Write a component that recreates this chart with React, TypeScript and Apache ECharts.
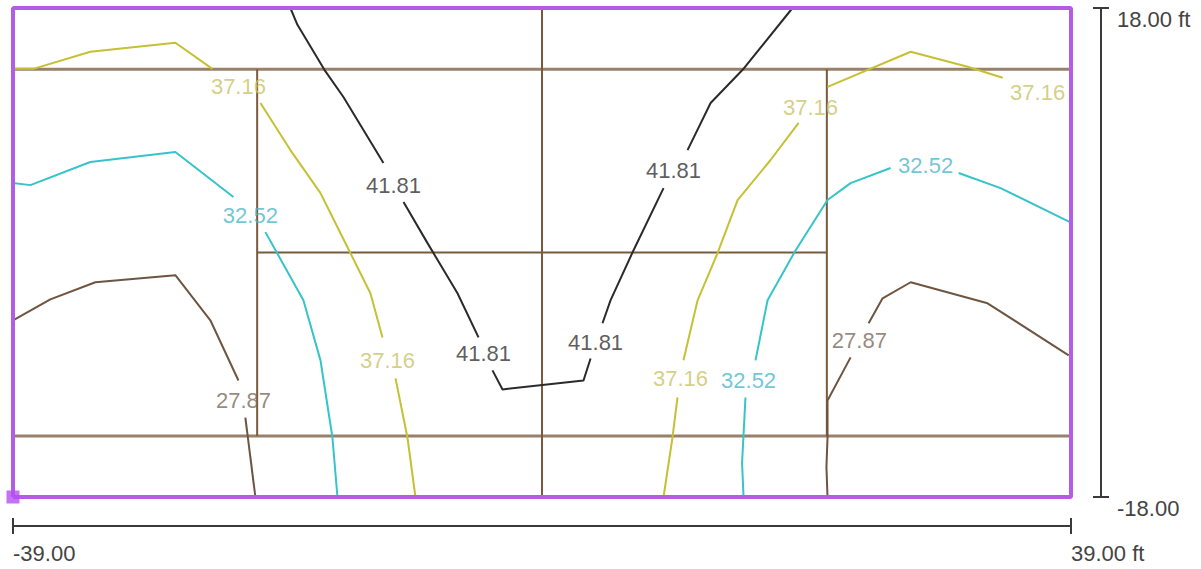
import React, { useEffect, useRef } from "react";
import * as echarts from "echarts";

// Axis ranges and tick labels (feet)
const X_RANGE = [-39, 39];
const Y_RANGE = [-18, 18];
const X_TICKS = [-39, 39];
const X_TICK_LABELS = ["-39.00", "39.00 ft"];
const Y_TICKS = [-18, 18];
const Y_TICK_LABELS = ["-18.00", "18.00 ft"];

// Contour levels
const LEVELS = [27.87, 32.52, 37.16, 41.81];

// Court outline and court markings
const courtOutline = [[-39, -18], [39, -18], [39, 18], [-39, 18], [-39, -18]];
const sideLines = [
  [[-39, 13.5], [39, 13.5]],
  [[-39, -13.5], [39, -13.5]],
];
const innerLines = [
  [[-21, -13.5], [-21, 13.5]],
  [[21, -13.5], [21, 13.5]],
  [[-21, 0], [21, 0]],
  [[0, -18], [0, 18]],
];

// 27.87 contour segments (brown)
const contour2787 = [
  [[-39, -4.99], [-36.25, -3.45], [-32.93, -2.19], [-27.03, -1.67], [-24.45, -4.99], [-22.38, -9.42]],
  [[-21.87, -12.15], [-21.13, -18]],
  [[21.05, -18], [20.97, -15.8], [21.05, -13.62], [21.05, -10.89], [22.75, -7.72]],
  [[24.08, -5.21], [25.11, -3.37], [27.18, -2.19], [32.85, -3.74], [38.83, -7.57]],
];
const labels2787 = [[-22.01, -10.89], [23.4, -6.5]];

// 32.52 contour segments (cyan)
const contour3252 = [
  [[-39, 5.11], [-37.72, 4.96], [-33.3, 6.66], [-27.03, 7.4], [-22.75, 4.08]],
  [[-20.39, 1.5], [-17.59, -3.52], [-16.33, -7.94], [-15.45, -13.62], [-15.08, -18]],
  [[14.86, -18], [14.75, -15.5], [15.0, -10.67]],
  [[15.74, -7.94], [16.63, -3.52], [18.7, 0.17], [21.05, 3.86], [22.75, 5.11], [25.7, 6.22]],
  [[30.72, 5.85], [33.81, 4.74], [39, 2.2]],
];
const labels3252 = [[-21.5, 2.75], [15.23, -9.42], [28.28, 6.44]];

// 37.16 contour segments (olive)
const contour3716 = [
  [[-39, 13.52], [-37.5, 13.52], [-33.3, 14.78], [-27.03, 15.44], [-24.3, 13.52]],
  [[-20.76, 11.01], [-18.55, 7.54], [-16.33, 4.37], [-14.34, 0.39], [-12.65, -3.0], [-11.76, -6.25]],
  [[-10.8, -9.27], [-9.92, -13.62], [-9.33, -18]],
  [[8.96, -18], [9.62, -13.62], [9.99, -10.67]],
  [[10.43, -7.94], [11.47, -3.52], [12.94, -0.05], [14.42, 3.86], [16.85, 6.81], [18.92, 9.54]],
  [[21.05, 12.19], [27.18, 14.78], [31.38, 13.67], [33.96, 12.86]],
];
const labels3716 = [[-22.38, 12.19], [-11.39, -7.94], [10.21, -9.27], [19.8, 10.71], [36.54, 11.81]];

// 41.81 contour segments (black)
const contour4181 = [
  [[-18.55, 18], [-18.03, 16.76], [-16.04, 13.45], [-14.64, 11.45], [-11.69, 6.59]],
  [[-10.21, 3.71], [-8.44, 0.69], [-6.23, -3.0], [-4.68, -6.25]],
  [[-3.65, -8.68], [-2.91, -10.08], [3.06, -9.42], [3.58, -7.8]],
  [[4.46, -5.21], [5.05, -3.52], [6.75, 0.17], [8.96, 4.74]],
  [[10.73, 7.54], [12.43, 11.01], [14.79, 13.45], [18.47, 18]],
];
const labels4181 = [[-10.95, 4.96], [-4.31, -7.42], [3.95, -6.61], [9.7, 6.07]];

const FONT = "'Liberation Sans', Arial, sans-serif";
const FONT_SIZE = 22;

const contourSets = [
  { level: LEVELS[0], segs: contour2787, labels: labels2787, line: "#6e5541", text: "#7a6a5c" },
  { level: LEVELS[1], segs: contour3252, labels: labels3252, line: "#36c4c8", text: "#4bb8cc" },
  { level: LEVELS[2], segs: contour3716, labels: labels3716, line: "#c6c034", text: "#c9c466" },
  { level: LEVELS[3], segs: contour4181, labels: labels4181, line: "#2a2a2a", text: "#333333" },
];

export default function App() {
  const ref = useRef<HTMLDivElement>(null);

  useEffect(() => {
    if (!ref.current) return;
    const chart = echarts.init(ref.current, null, { renderer: "svg" });

    const series: any[] = [];

    sideLines.forEach((seg) => {
      series.push({
        type: "line",
        data: seg,
        showSymbol: false,
        silent: true,
        z: 2,
        lineStyle: { color: "#98806a", width: 3 },
      });
    });
    innerLines.forEach((seg) => {
      series.push({
        type: "line",
        data: seg,
        showSymbol: false,
        silent: true,
        z: 2,
        lineStyle: { color: "#7a5a3c", width: 2 },
      });
    });

    contourSets.forEach((set) => {
      set.segs.forEach((seg) => {
        series.push({
          type: "line",
          data: seg,
          showSymbol: false,
          silent: true,
          z: 3,
          lineStyle: { color: set.line, width: 2 },
        });
      });
      series.push({
        type: "scatter",
        data: set.labels.map((p) => [p[0], p[1], set.level]),
        symbolSize: 0,
        silent: true,
        z: 5,
        label: {
          show: true,
          position: "inside",
          formatter: (p: any) => p.value[2].toFixed(2),
          color: set.text,
          fontSize: FONT_SIZE,
          fontFamily: FONT,
        },
      });
    });

    series.push({
      type: "line",
      data: courtOutline,
      showSymbol: false,
      silent: true,
      z: 4,
      lineStyle: { color: "#b35ce6", width: 4 },
    });
    series.push({
      type: "scatter",
      data: [[X_RANGE[0], Y_RANGE[0]]],
      symbol: "rect",
      symbolSize: 13,
      silent: true,
      z: 6,
      itemStyle: { color: "#b54ff0" },
    });

    const xLabel = (v: number) => X_TICK_LABELS[X_TICKS.indexOf(v)] ?? "";
    const yLabel = (v: number) => Y_TICK_LABELS[Y_TICKS.indexOf(v)] ?? "";
    const axisColor = "#3a3a3a";

    chart.setOption({
      animation: false,
      grid: { left: 13, right: 130, top: 8, bottom: 72, containLabel: false },
      xAxis: [
        {
          type: "value",
          min: X_RANGE[0],
          max: X_RANGE[1],
          position: "bottom",
          offset: 29,
          splitLine: { show: false },
          axisLine: { show: true, onZero: false, lineStyle: { color: axisColor, width: 2 } },
          axisTick: { show: true, customValues: X_TICKS, length: 8, lineStyle: { color: axisColor, width: 2 } },
          axisLabel: {
            show: true,
            customValues: X_TICKS,
            formatter: xLabel,
            align: "left",
            margin: 16,
            color: "#444",
            fontSize: FONT_SIZE,
            fontFamily: FONT,
          },
        },
        {
          type: "value",
          min: X_RANGE[0],
          max: X_RANGE[1],
          position: "bottom",
          offset: 29,
          splitLine: { show: false },
          axisLine: { show: false, onZero: false },
          axisTick: { show: true, inside: true, customValues: X_TICKS, length: 8, lineStyle: { color: axisColor, width: 2 } },
          axisLabel: { show: false },
        },
      ],
      yAxis: [
        {
          type: "value",
          min: Y_RANGE[0],
          max: Y_RANGE[1],
          position: "right",
          offset: 30,
          splitLine: { show: false },
          axisLine: { show: true, onZero: false, lineStyle: { color: axisColor, width: 2 } },
          axisTick: { show: true, customValues: Y_TICKS, length: 8, lineStyle: { color: axisColor, width: 2 } },
          axisLabel: {
            show: true,
            customValues: Y_TICKS,
            formatter: yLabel,
            verticalAlign: "top",
            margin: 16,
            color: "#444",
            fontSize: FONT_SIZE,
            fontFamily: FONT,
          },
        },
        {
          type: "value",
          min: Y_RANGE[0],
          max: Y_RANGE[1],
          position: "right",
          offset: 30,
          splitLine: { show: false },
          axisLine: { show: false, onZero: false },
          axisTick: { show: true, inside: true, customValues: Y_TICKS, length: 8, lineStyle: { color: axisColor, width: 2 } },
          axisLabel: { show: false },
        },
      ],
      series,
    });

    return () => chart.dispose();
  }, []);

  return (
    <div
      ref={ref}
      style={{ position: "absolute", left: 0, top: 0, width: 1201, height: 569, background: "#fff" }}
    />
  );
}
